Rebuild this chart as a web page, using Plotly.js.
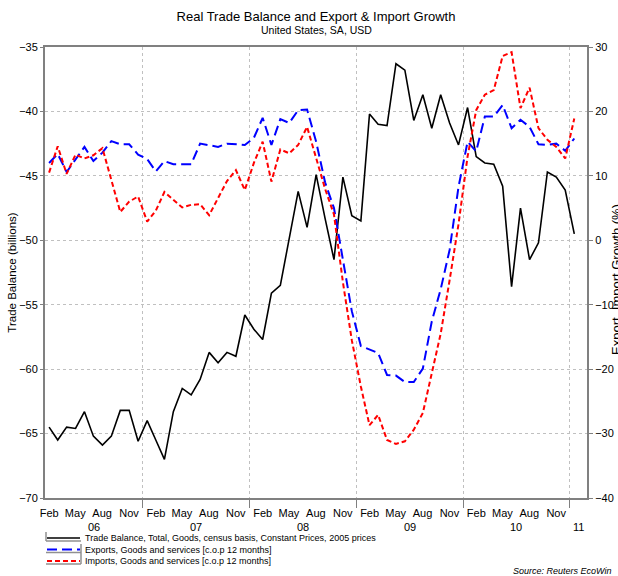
<!DOCTYPE html>
<html>
<head>
<meta charset="utf-8">
<script src="https://cdn.plot.ly/plotly-3.0.1.min.js"></script>
<style>
html,body{margin:0;padding:0;background:#fff;}
#chart{width:618px;height:576px;}
</style>
</head>
<body>
<div id="chart"></div>
<script>
// ---- Data (monthly, Feb 2006 – Jan 2011) ----
const monthCount = 60;
const months = [];
(function(){
  let y = 2006, m = 2;
  for (let i = 0; i < monthCount; i++) {
    months.push(y + "-" + String(m).padStart(2, "0"));
    m++; if (m > 12) { m = 1; y++; }
  }
})();

// Trade Balance, Total, Goods, census basis, Constant Prices, 2005 prices (billions, left axis)
const tradeBalance = [
  -64.5, -65.5, -64.5, -64.6, -63.3, -65.2, -65.9, -65.2, -63.2, -63.2, -65.6, -64.0,
  -65.5, -67.0, -63.3, -61.5, -62.0, -60.8, -58.7, -59.5, -58.7, -59.0, -55.8, -56.9,
  -57.7, -54.1, -53.5, -49.8, -46.2, -49.0, -44.9, -48.3, -51.5, -45.1, -48.1, -48.5,
  -40.2, -41.0, -41.1, -36.3, -36.8, -40.7, -38.7, -41.3, -38.7, -40.9, -42.6, -39.7,
  -43.5, -44.0, -44.1, -45.8, -53.6, -47.5, -51.5, -50.2, -44.7, -45.1, -46.1, -49.5
];

// Exports, Goods and services [c.o.p 12 months] (%, right axis)
const exportsGrowth = [
  12.0, 13.4, 10.6, 12.6, 14.5, 12.3, 13.6, 15.4, 14.9, 14.9, 13.3, 12.6,
  10.7, 12.3, 11.8, 11.8, 11.8, 15.0, 14.8, 14.5, 15.0, 14.9, 14.8, 15.9,
  19.0, 14.8, 18.8, 18.2, 20.2, 20.3, 15.3, 9.0, 5.0, -3.0, -11.0, -16.4,
  -16.9, -17.5, -20.9, -21.0, -22.0, -22.0, -19.9, -12.6, -7.6, -1.5, 8.3, 15.3,
  13.8, 19.2, 19.2, 21.0, 17.4, 18.7, 17.6, 14.9, 14.8, 15.0, 13.9, 15.8
];

// Imports, Goods and services [c.o.p 12 months] (%, right axis)
const importsGrowth = [
  10.5, 14.6, 10.3, 13.3, 12.7, 13.2, 14.3, 9.3, 4.4, 6.0, 6.8, 2.9,
  4.6, 7.5, 6.3, 5.1, 5.5, 5.6, 3.9, 6.5, 9.2, 10.9, 7.8, 12.0,
  15.3, 9.1, 14.1, 13.5, 14.8, 17.6, 12.8, 8.0, 4.0, -6.5, -15.5, -22.7,
  -28.7, -27.1, -31.0, -31.6, -31.2, -29.4, -26.8, -20.5, -14.5, -6.2, 2.5, 13.0,
  20.2, 22.6, 23.3, 28.6, 29.2, 20.5, 23.7, 17.4, 15.6, 14.5, 12.7, 18.9
];

// Axis labels
const monthTickVals = [];
const monthTickText = [];
const monthNames = {"02":"Feb","05":"May","08":"Aug","11":"Nov"};
["2006","2007","2008","2009","2010"].forEach(function(yr){
  ["02","05","08","11"].forEach(function(mm){
    monthTickVals.push(yr + "-" + mm + "-15 12:00");
    monthTickText.push(monthNames[mm]);
  });
});
const yearBoundaries = ["2007-01-01","2008-01-01","2009-01-01","2010-01-01","2011-01-01"];
const yearLabels = ["06","07","08","09","10","11"];
const yearLabelPos = ["2006-07-17","2007-07-02","2008-07-02","2009-07-02","2010-07-02","2011-01-31"];

const seriesNames = [
  "Trade Balance, Total, Goods, census basis, Constant Prices, 2005 prices",
  "Exports, Goods and services [c.o.p 12 months]",
  "Imports, Goods and services [c.o.p 12 months]"
];

// ---- Geometry helpers (plot area in px) ----
const W = 618, H = 576;
const M = {l:45, r:31, t:47, b:78};
const PW = W - M.l - M.r, PH = H - M.t - M.b;
const px2x = function(px){ return (px - M.l) / PW; };
const py2y = function(py){ return (H - M.b - py) / PH; };

const FONT = "'Liberation Sans', Arial, sans-serif";

const traces = [
  {
    x: months, y: tradeBalance, type: "scatter", mode: "lines",
    name: seriesNames[0], xperiod: "M1", xperiodalignment: "middle",
    line: {color: "#000000", width: 1.6}, yaxis: "y", showlegend: false
  },
  {
    x: months, y: exportsGrowth, type: "scatter", mode: "lines",
    name: seriesNames[1], xperiod: "M1", xperiodalignment: "middle",
    line: {color: "#0000ff", width: 2, dash: "10px,5px"}, yaxis: "y2", showlegend: false
  },
  {
    x: months, y: importsGrowth, type: "scatter", mode: "lines",
    name: seriesNames[2], xperiod: "M1", xperiodalignment: "middle",
    line: {color: "#ff0000", width: 2, dash: "5px,3px"}, yaxis: "y2", showlegend: false
  }
];

// Legend (drawn manually for compact spacing)
const legendRows = [538, 549.5, 561];
const legendStyles = [
  {color:"#000000", dash:"solid", width:1.6},
  {color:"#0000ff", dash:"10px,5px", width:2},
  {color:"#ff0000", dash:"5px,3px", width:2}
];
const shapes = [];
const annotations = [];
legendRows.forEach(function(py, i){
  shapes.push({type:"line", xref:"paper", yref:"paper",
    x0:px2x(47), x1:px2x(80), y0:py2y(py), y1:py2y(py),
    line:legendStyles[i]});
  shapes.push({type:"line", xref:"paper", yref:"paper",
    x0:px2x(46), x1:px2x(81), y0:py2y(py+3), y1:py2y(py+3),
    line:{color:"#909090", width:1.5}});
  annotations.push({xref:"paper", yref:"paper", x:px2x(83), y:py2y(py),
    xanchor:"left", yanchor:"middle", showarrow:false, text:seriesNames[i],
    font:{family:FONT, size:9, color:"#000"}});
});
shapes.push({type:"line", xref:"paper", yref:"paper",
  x0:px2x(46), x1:px2x(46), y0:py2y(532), y1:py2y(541),
  line:{color:"#909090", width:1.5}});
shapes.push({type:"line", xref:"paper", yref:"paper",
  x0:px2x(81), x1:px2x(81), y0:py2y(544), y1:py2y(564),
  line:{color:"#909090", width:1.5}});

yearLabels.forEach(function(lbl, i){
  annotations.push({xref:"x", yref:"paper", x:yearLabelPos[i], y:py2y(527),
    xanchor:"center", yanchor:"middle", showarrow:false, text:lbl,
    font:{family:FONT, size:11, color:"#000"}});
});

// Subtitle
annotations.push({xref:"paper", yref:"paper", x:0.5, y:py2y(30),
  xanchor:"center", yanchor:"middle", showarrow:false,
  text:"United States, SA, USD",
  font:{family:FONT, size:10.5, color:"#000"}});

// Right axis title (sits at the page edge as in the original)
annotations.push({xref:"paper", yref:"paper", x:px2x(616), y:py2y(280),
  xanchor:"center", yanchor:"middle", showarrow:false, textangle:-90,
  text:"Export, Import Growth (%)",
  font:{family:FONT, size:13, color:"#000"}});

// Source note
annotations.push({xref:"paper", yref:"paper", x:px2x(511), y:py2y(571),
  xanchor:"left", yanchor:"middle", showarrow:false,
  text:"<i>Source: Reuters EcoWin</i>",
  font:{family:FONT, size:9, color:"#000"}});

const xRange = ["2006-02-01", "2011-03-01"];
const axisGray = "#808080";
const gridGray = "#c0c0c0";

const layout = {
  width: W, height: H,
  margin: M,
  paper_bgcolor: "#ffffff", plot_bgcolor: "#ffffff",
  font: {family: FONT, size: 11, color: "#000"},
  showlegend: false,
  title: {
    text: "Real Trade Balance and Export & Import Growth",
    font: {family: FONT, size: 13, color: "#000"},
    x: 0.5, xref: "paper", xanchor: "center",
    y: 1 - 16/H, yref: "container", yanchor: "middle"
  },
  xaxis: {
    type: "date", range: xRange,
    tickmode: "array", tickvals: monthTickVals, ticktext: monthTickText,
    ticks: "", showgrid: false, zeroline: false,
    showline: true, linecolor: axisGray, linewidth: 2, mirror: true,
    tickfont: {family: FONT, size: 11, color: "#000"},
    ticklabelstandoff: 4,
    minor: {
      tickmode: "array", tickvals: yearBoundaries,
      ticks: "outside", ticklen: 8, tickcolor: axisGray, tickwidth: 1,
      showgrid: true, gridcolor: gridGray, griddash: "dot", gridwidth: 1
    }
  },
  xaxis2: {
    type: "date", range: xRange, overlaying: "x", anchor: "y", side: "bottom",
    tickmode: "linear", tick0: "2006-01-01", dtick: "M3",
    ticks: "outside", ticklen: 4, tickcolor: axisGray,
    showticklabels: false, showgrid: false, showline: false, zeroline: false
  },
  yaxis: {
    range: [-70, -35], tickmode: "linear", tick0: -70, dtick: 5,
    ticks: "outside", ticklen: 3, tickcolor: axisGray,
    showline: true, linecolor: axisGray, linewidth: 2,
    showgrid: true, gridcolor: gridGray, griddash: "dot", gridwidth: 1,
    zeroline: false,
    tickfont: {family: FONT, size: 11, color: "#000"},
    title: {text: "Trade Balance (billions)", font: {family: FONT, size: 11.5, color: "#000"}, standoff: 0}
  },
  yaxis2: {
    range: [-40, 30], tickmode: "linear", tick0: -40, dtick: 10,
    overlaying: "y", side: "right",
    ticks: "outside", ticklen: 4, tickcolor: axisGray,
    showline: true, linecolor: axisGray, linewidth: 2,
    showgrid: false, zeroline: false,
    tickfont: {family: FONT, size: 11, color: "#000"}
  },
  shapes: shapes,
  annotations: annotations
};

Plotly.newPlot("chart", traces, layout, {displayModeBar: false, staticPlot: true});
</script>
</body>
</html>
